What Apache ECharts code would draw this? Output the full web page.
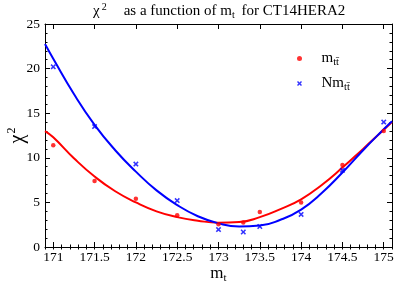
<!DOCTYPE html>
<html>
<head>
<meta charset="utf-8">
<script src="https://cdn.jsdelivr.net/npm/echarts@6/dist/echarts.min.js"></script>
<style>html,body{margin:0;padding:0;background:#fff;}#c{width:407px;height:285px;}</style>
</head>
<body>
<div id="c"></div>
<script>
// Data points
const massPoints = [171, 171.5, 172, 172.5, 173, 173.3, 173.5, 174, 174.5, 175];
const chi2Mtt = [11.4, 7.4, 5.4, 3.55, 2.55, 2.76, 3.92, 5.0, 9.2, 13.0];
const chi2NMtt = [20.2, 13.5, 9.3, 5.2, 1.95, 1.68, 2.3, 3.65, 8.6, 14.0];
// Fit curves
const fitMass = [170.9, 171, 171.25, 171.5, 171.75, 172, 172.25, 172.5, 172.75, 173, 173.25, 173.5, 173.75, 174, 174.25, 174.5, 174.75, 175, 175.1];
const fitMtt = [13.0, 12.3, 9.95, 7.9, 6.25, 5.0, 4.0, 3.35, 2.95, 2.73, 2.8, 3.35, 4.25, 5.35, 6.95, 8.9, 11.0, 13.15, 14.0];
const fitNMtt = [22.75, 21.1, 17.15, 13.7, 10.85, 8.45, 6.35, 4.7, 3.45, 2.65, 2.3, 2.4, 3.05, 4.2, 6.05, 8.35, 10.85, 13.2, 14.1];
// Tick labels
const xMajorTicks = [171, 171.5, 172, 172.5, 173, 173.5, 174, 174.5, 175];
const xMinorTicks = [];
for (let i = 1709; i <= 1751; i++) xMinorTicks.push(i / 10);

const serif = 'Liberation Serif';
const pair = (xs, ys) => xs.map((x, i) => [x, ys[i]]);
const crossPath = 'path://M0,2L2,0L5,3L8,0L10,2L7,5L10,8L8,10L5,7L2,10L0,8L3,5Z';

const baseX = {
  type: 'value', min: 170.9, max: 175.1,
  splitLine: { show: false },
  axisLine: { show: true, onZero: false, lineStyle: { color: '#000', width: 1 } }
};
const chart = echarts.init(document.getElementById('c'), null, { renderer: 'canvas' });
chart.setOption({
  animation: false,
  backgroundColor: '#fff',
  title: {
    text: '{c|\u03c7}{sup|2}{a|as a function of m}{sub|t}{a| for CT14HERA2}',
    left: 93, top: 2, padding: 0,
    textStyle: {
      fontFamily: serif, fontSize: 15, fontWeight: 'normal', color: '#000',
      rich: {
        c: { fontFamily: serif, fontSize: 15, color: '#000' },
        a: { fontFamily: serif, fontSize: 15, color: '#000' },
        sup: { fontFamily: serif, fontSize: 10, color: '#000', padding: [0, 17, 9, 2] },
        sub: { fontFamily: serif, fontSize: 10, color: '#000', padding: [8, 3, 0, 0] }
      }
    }
  },
  legend: {
    orient: 'vertical', left: 292, top: 46,
    itemWidth: 34, itemHeight: 5, itemGap: 8,
    data: [
      { name: 'mtt', icon: 'circle' },
      { name: 'Nmtt', icon: crossPath }
    ],
    formatter: n => n === 'mtt' ? '{a|m}{s|tt\u0304}' : '{a|Nm}{s|tt\u0304}',
    textStyle: {
      fontFamily: serif, fontSize: 15, color: '#000',
      rich: {
        a: { fontFamily: serif, fontSize: 15, color: '#000' },
        s: { fontFamily: serif, fontSize: 10.5, color: '#000', padding: [8, 0, 0, 0] }
      }
    }
  },
  grid: { left: 45, right: 15, top: 24, bottom: 38, outerBoundsMode: 'none', containLabel: false },
  xAxis: [
    Object.assign({}, baseX, {
      position: 'bottom',
      name: '{a|m}{s|t}', nameLocation: 'middle', nameGap: 17, nameMoveOverlap: false,
      nameTextStyle: {
        fontFamily: serif, fontSize: 17, color: '#000',
        rich: {
          a: { fontFamily: serif, fontSize: 17, color: '#000' },
          s: { fontFamily: serif, fontSize: 11, color: '#000', padding: [9, 0, 0, 0] }
        }
      },
      axisTick: { show: true, inside: true, length: 5, customValues: xMajorTicks, lineStyle: { color: '#000' } },
      axisLabel: { show: true, customValues: xMajorTicks, margin: 3, fontFamily: serif, fontSize: 13.5, color: '#000' }
    }),
    Object.assign({}, baseX, {
      position: 'bottom',
      axisLine: { show: false },
      axisTick: { show: true, inside: true, length: 2.5, customValues: xMinorTicks, lineStyle: { color: '#000' } },
      axisLabel: { show: false }
    }),
    Object.assign({}, baseX, {
      position: 'top',
      axisTick: { show: true, inside: true, length: 5, customValues: xMajorTicks, lineStyle: { color: '#000' } },
      axisLabel: { show: false }
    }),
    Object.assign({}, baseX, {
      position: 'top',
      axisLine: { show: false },
      axisTick: { show: true, inside: true, length: 2.5, customValues: xMinorTicks, lineStyle: { color: '#000' } },
      axisLabel: { show: false }
    })
  ],
  yAxis: [
    {
      type: 'value', min: 0, max: 25, interval: 5, position: 'left',
      name: '{a|\u03c7}{sup|2}', nameLocation: 'middle', nameGap: 16, nameRotate: 90, nameMoveOverlap: false,
      nameTextStyle: {
        fontFamily: serif, fontSize: 20, color: '#000',
        rich: {
          a: { fontFamily: serif, fontSize: 20, color: '#000' },
          sup: { fontFamily: serif, fontSize: 12, color: '#000', padding: [0, 0, 11, 1] }
        }
      },
      splitLine: { show: false },
      axisLine: { show: true, lineStyle: { color: '#000' } },
      axisTick: { show: true, inside: true, length: 5, lineStyle: { color: '#000' } },
      minorTick: { show: true, splitNumber: 5, length: 2.5, lineStyle: { color: '#000' } },
      axisLabel: { margin: 5, fontFamily: serif, fontSize: 13.5, color: '#000' }
    },
    {
      type: 'value', min: 0, max: 25, interval: 5, position: 'right',
      splitLine: { show: false },
      axisLine: { show: true, lineStyle: { color: '#000' } },
      axisTick: { show: true, inside: true, length: 5, lineStyle: { color: '#000' } },
      minorTick: { show: true, splitNumber: 5, length: 2.5, lineStyle: { color: '#000' } },
      axisLabel: { show: false }
    }
  ],
  series: [
    {
      name: 'fitMtt', type: 'line', smooth: true, symbol: 'none',
      data: pair(fitMass, fitMtt), lineStyle: { color: '#ff0000', width: 2 }, z: 2
    },
    {
      name: 'fitNMtt', type: 'line', smooth: true, symbol: 'none',
      data: pair(fitMass, fitNMtt), lineStyle: { color: '#0000ff', width: 2 }, z: 2
    },
    {
      name: 'mtt', type: 'scatter', symbol: 'circle', symbolSize: 4.5,
      data: pair(massPoints, chi2Mtt), itemStyle: { color: '#ff0000' }, z: 3
    },
    {
      name: 'Nmtt', type: 'scatter',
      symbol: crossPath, symbolSize: 5.5,
      data: pair(massPoints, chi2NMtt), itemStyle: { color: '#0000ff' }, z: 3
    }
  ]
});
</script>
</body>
</html>
